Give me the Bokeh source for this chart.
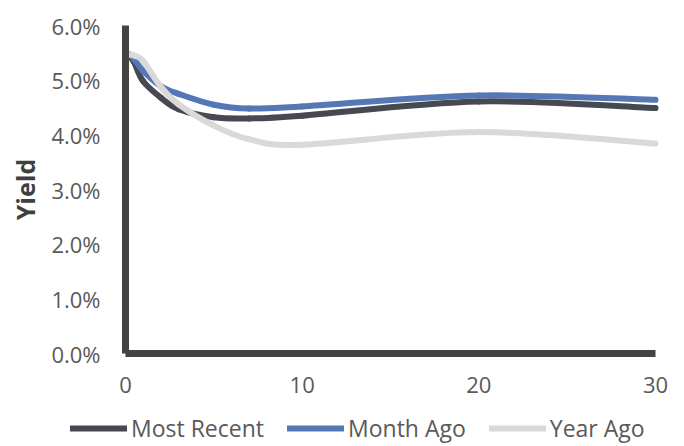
from bokeh.plotting import figure
from bokeh.models import (Legend, LegendItem, PrintfTickFormatter, FixedTicker,
                          Range1d, ColumnDataSource)
from bokeh.embed import file_html
from bokeh.resources import INLINE

# ---- data ----
maturity = [1/12, 0.25, 0.5, 1, 2, 3, 5, 7, 10, 20, 30]
most_recent = [5.45, 5.43, 5.32, 4.98, 4.68, 4.47, 4.32, 4.30, 4.35, 4.61, 4.49]
month_ago = [5.46, 5.47, 5.38, 5.17, 4.89, 4.75, 4.55, 4.48, 4.52, 4.72, 4.64]
year_ago = [5.45, 5.47, 5.45, 5.35, 4.88, 4.56, 4.17, 3.92, 3.82, 4.05, 3.84]
series_names = ["Most Recent", "Month Ago", "Year Ago"]
series_colors = ["#464952", "#5677b6", "#d9d9d9"]
y_ticks = [0, 1, 2, 3, 4, 5, 6]
x_ticks = [0, 10, 20, 30]

FONT = "Open Sans"
AXIS_COLOR = "#45433f"
LABEL_COLOR = "#595959"

# ---- layout (pixels) ----
W, H = 680, 444
X0_PX, X30_PX = 125, 655     # where x = 0 and x = 30 sit
Y0_PX, Y6_PX = 353, 25       # where y = 0 % and y = 6 % sit
sx = (X30_PX - X0_PX) / 30.0
sy = (Y0_PX - Y6_PX) / 6.0
x_range = Range1d(-X0_PX / sx, (W - X0_PX) / sx)
y_range = Range1d(-(H - Y0_PX) / sy, 6 + Y6_PX / sy)


def smooth_segments(xs, ys):
    """Excel-style smoothed line: one cubic Bezier per pair of data points."""
    n = len(xs)
    d = dict(x0=[], y0=[], x1=[], y1=[], cx0=[], cy0=[], cx1=[], cy1=[])
    for i in range(n - 1):
        xp, yp = (xs[i - 1], ys[i - 1]) if i > 0 else (xs[i], ys[i])
        xn, yn = (xs[i + 2], ys[i + 2]) if i + 2 < n else (xs[i + 1], ys[i + 1])
        d["x0"].append(xs[i]); d["y0"].append(ys[i])
        d["x1"].append(xs[i + 1]); d["y1"].append(ys[i + 1])
        d["cx0"].append(xs[i] + (xs[i + 1] - xp) / 6)
        d["cy0"].append(ys[i] + (ys[i + 1] - yp) / 6)
        d["cx1"].append(xs[i + 1] - (xn - xs[i]) / 6)
        d["cy1"].append(ys[i + 1] - (yn - ys[i]) / 6)
    return ColumnDataSource(d)


p = figure(width=W, height=H, x_range=x_range, y_range=y_range,
           output_backend="svg", toolbar_location=None,
           min_border_left=0, min_border_right=0, min_border_top=0,
           min_border_bottom=0)
p.outline_line_color = None
p.xgrid.visible = False
p.ygrid.visible = False
p.background_fill_color = "white"
p.border_fill_color = "white"

renderers = []
for name, vals, col in zip(series_names, [most_recent, month_ago, year_ago], series_colors):
    src = smooth_segments(maturity, vals)
    r = p.bezier(x0="x0", y0="y0", x1="x1", y1="y1", cx0="cx0", cy0="cy0",
                 cx1="cx1", cy1="cy1", source=src, line_color=col, line_width=6,
                 line_cap="round")
    renderers.append((name, r))

for ax in (p.xaxis[0], p.yaxis[0]):
    ax.fixed_location = 0
    ax.axis_line_color = AXIS_COLOR
    ax.axis_line_width = 7
    ax.major_tick_line_color = None
    ax.minor_tick_line_color = None
    ax.major_label_text_font = FONT
    ax.major_label_text_font_size = "22px"
    ax.major_label_text_color = LABEL_COLOR

p.xaxis.bounds = (0, 30)
p.yaxis.bounds = (0, 6)
p.xaxis.major_label_standoff = 17
p.yaxis.major_label_standoff = 19
p.xaxis.ticker = FixedTicker(ticks=x_ticks)
p.yaxis.ticker = FixedTicker(ticks=y_ticks)
p.yaxis.formatter = PrintfTickFormatter(format="%.1f%%")
p.yaxis.axis_label = "Yield"
p.yaxis.axis_label_text_font = FONT
p.yaxis.axis_label_text_font_style = "bold"
p.yaxis.axis_label_text_font_size = "25px"
p.yaxis.axis_label_text_color = "#404040"
p.yaxis.axis_label_standoff = 6

legend = Legend(items=[LegendItem(label=n, renderers=[r]) for n, r in renderers],
                orientation="horizontal", location=(70, 0),
                glyph_width=57, glyph_height=20, label_standoff=4, spacing=23,
                padding=3, margin=0, border_line_color=None,
                background_fill_alpha=0, label_text_font=FONT,
                label_text_font_size="23px", label_text_color=LABEL_COLOR)
p.add_layout(legend, "center")

open("out.html", "w").write(file_html(p, INLINE))
